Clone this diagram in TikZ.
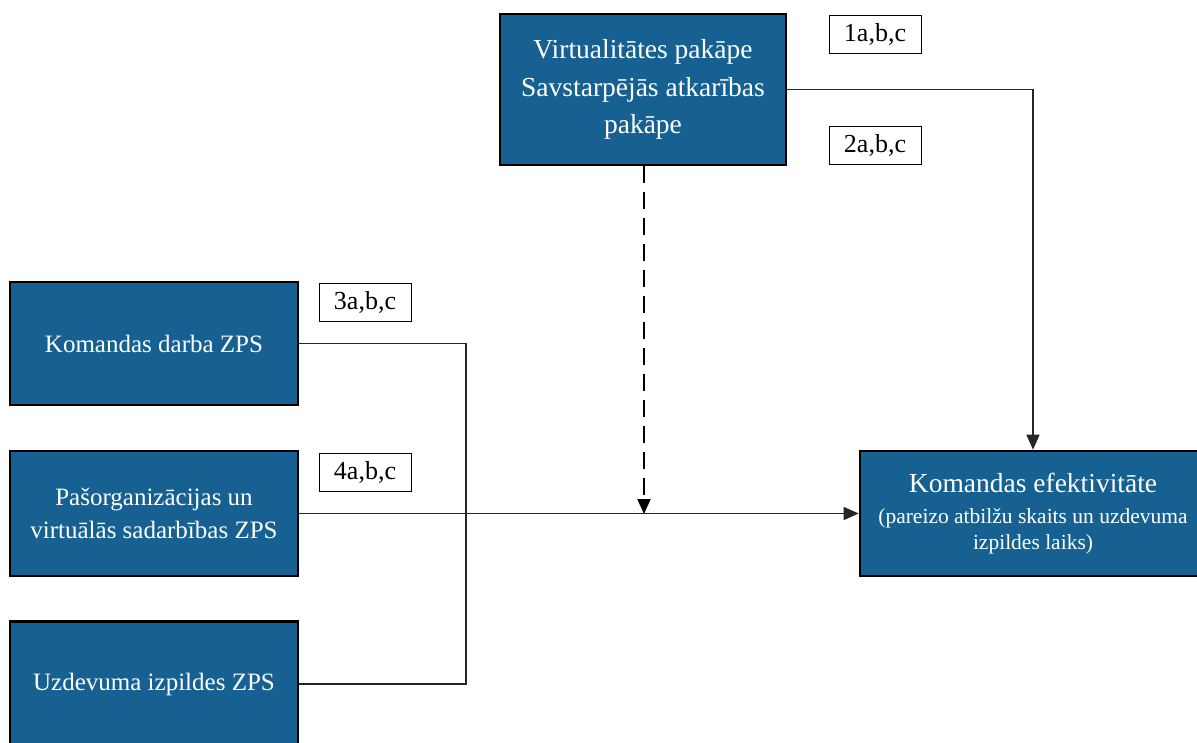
\documentclass[tikz,border=0pt]{standalone}
\usepackage{fontspec}
\setmainfont{Liberation Serif}
\usetikzlibrary{arrows.meta}
\definecolor{boxblue}{RGB}{22,97,146}
\begin{document}
\begin{tikzpicture}[x=1pt,y=-1pt,
  bluebox/.style={draw=black, line width=2.6pt, fill=boxblue, text=white, align=center, inner sep=0pt},
  lbl/.style={draw=black, line width=0.9pt, fill=white, minimum width=92pt, minimum height=38pt, inner sep=0pt, font=\fontsize{26}{30}\selectfont},
  conn/.style={draw=black!85, line width=1.4pt},
  tip/.style={-{Triangle[length=15pt,width=13pt]}}
]
\useasboundingbox (0,0) rectangle (1197,742);
% boxes
\node[bluebox, minimum width=286pt, minimum height=151pt, font=\fontsize{27.5}{37.5}\selectfont] (top) at (643,89.5)
  {Virtualitātes pakāpe\\Savstarpējās atkarības\\pakāpe};
\node[bluebox, minimum width=288pt, minimum height=123pt, font=\fontsize{25}{33}\selectfont] (b1) at (154,343.5)
  {Komandas darba ZPS};
\node[bluebox, minimum width=288pt, minimum height=125pt, font=\fontsize{25}{33}\selectfont] (b2) at (154,513.5)
  {Pašorganizācijas un\\virtuālās sadarbības ZPS};
\node[bluebox, minimum width=288pt, minimum height=125pt, font=\fontsize{25}{33}\selectfont] (b3) at (154,684)
  {Uzdevuma izpildes ZPS};
\node[bluebox, minimum width=346pt, minimum height=125pt, font=\fontsize{21.5}{26}\selectfont] (res) at (1033,513.5)
  {{\fontsize{27.5}{30}\selectfont Komandas efektivitāte}\\[5pt]
   (pareizo atbilžu skaits un uzdevuma\\
   izpildes laiks)};
% labels
\node[lbl] (l1) at (875,34) {1a,b,c};
\node[lbl] (l2) at (875,145.5) {2a,b,c};
\node[lbl] (l3) at (365,302) {3a,b,c};
\node[lbl] (l4) at (365,472) {4a,b,c};
% junction coordinates
\coordinate (bus) at (466,514);
\coordinate (mod) at (644,514);
% connectors
\draw[conn] (b1.east) -| (bus) |- (b3.east);
\draw[conn, tip] (b2.east) -- (res.west);
\draw[conn, tip] (top.east) -| (res.north);
\draw[draw=black, line width=2pt, dash pattern=on 17pt off 9pt, tip] (top.south -| mod) -- (mod);
\end{tikzpicture}
\end{document}
